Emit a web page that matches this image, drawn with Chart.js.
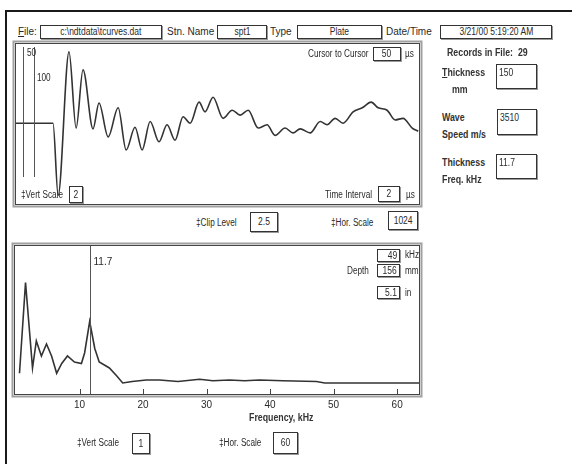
<!DOCTYPE html>
<html>
<head>
<meta charset="utf-8">
<script src="https://cdn.jsdelivr.net/npm/chart.js@4.4.1/dist/chart.umd.min.js"></script>
<style>
  body { margin: 0; width: 572px; height: 464px; background: #fff; position: relative; overflow: hidden;
         font-family: "Liberation Sans", Arial, sans-serif; font-size: 10px; color: #2a2a2a; }
  .frame { position: absolute; left: 5px; top: 10px; right: -4px; bottom: -4px;
           border-top: 2px solid #1a1a1a; border-left: 2px solid #1a1a1a; }
  .t { position: absolute; white-space: nowrap; line-height: 12px; transform-origin: 0 0; }
  .c { transform: scaleX(0.82); }
  .b { font-weight: bold; transform: scaleX(0.88); color: #333; }
  .box { position: absolute; background: #fff; border: 1px solid #333; box-shadow: 1px 1px 0 #999;
         text-align: center; line-height: 12px; white-space: nowrap; box-sizing: border-box; overflow: hidden; }
  .box span { display: inline-block; transform: scaleX(0.85); }
  .box.tl { text-align: left; padding: 2px 0 0 2px; }
  .box.tl span { transform-origin: 0 0; }
  .box.r { text-align: right; padding-right: 2px; }
  .box.r span { transform-origin: 100% 0; }
  canvas { position: absolute; }
</style>
</head>
<body>
<div class="frame"></div>

<!-- header row -->
<div class="t" style="left:18px;top:26px"><u>F</u>ile:</div>
<div class="box" style="left:40px;top:25px;width:122px;height:14px"><span>c:\ndtdata\tcurves.dat</span></div>
<div class="t" style="left:167px;top:26px">Stn. Name</div>
<div class="box" style="left:217px;top:25px;width:50px;height:14px"><span>spt1</span></div>
<div class="t" style="left:270px;top:26px">Type</div>
<div class="box" style="left:297px;top:25px;width:85px;height:14px"><span>Plate</span></div>
<div class="t" style="left:386px;top:26px">Date/Time</div>
<div class="box" style="left:440px;top:25px;width:112px;height:14px"><span>3/21/00 5:19:20 AM</span></div>

<canvas id="waveChart" width="415" height="172" style="left:10px;top:38px"></canvas>
<canvas id="specChart" width="416" height="180" style="left:9px;top:240px"></canvas>

<!-- waveform panel labels -->
<div class="t c" style="left:308px;top:48px">Cursor to Cursor</div>
<div class="box" style="left:373px;top:47px;width:28px;height:14px"><span>50</span></div>
<div class="t c" style="left:405px;top:48px">µs</div>
<div class="t c" style="left:27px;top:47px">50</div>
<div class="t c" style="left:37px;top:72px">100</div>
<div class="t c" style="left:21px;top:189px">‡Vert Scale</div>
<div class="box" style="left:69px;top:186px;width:14px;height:17px;line-height:15px"><span>2</span></div>
<div class="t c" style="left:325px;top:189px">Time Interval</div>
<div class="box" style="left:378px;top:186px;width:22px;height:16px;line-height:14px"><span>2</span></div>
<div class="t c" style="left:406px;top:189px">µs</div>

<!-- right panel -->
<div class="t b" style="left:447px;top:47px">Records in File:&nbsp; 29</div>
<div class="t b" style="left:442px;top:67px"><u>T</u>hickness</div>
<div class="t b" style="left:452px;top:84px">mm</div>
<div class="box tl" style="left:496px;top:64px;width:41px;height:25px"><span>150</span></div>
<div class="t b" style="left:442px;top:112px">Wave</div>
<div class="t b" style="left:442px;top:129px">Speed m/s</div>
<div class="box tl" style="left:497px;top:109px;width:40px;height:26px"><span>3510</span></div>
<div class="t b" style="left:442px;top:157px">Thickness</div>
<div class="t b" style="left:442px;top:174px">Freq. kHz</div>
<div class="box tl" style="left:496px;top:154px;width:41px;height:25px"><span>11.7</span></div>

<!-- middle row -->
<div class="t c" style="left:196px;top:217px">‡Clip Level</div>
<div class="box" style="left:250px;top:212px;width:28px;height:20px;line-height:18px"><span>2.5</span></div>
<div class="t c" style="left:331px;top:217px">‡Hor. Scale</div>
<div class="box" style="left:388px;top:211px;width:30px;height:19px;line-height:17px"><span>1024</span></div>

<!-- spectrum panel labels -->
<div class="box r" style="left:377px;top:249px;width:23px;height:13px"><span>49</span></div>
<div class="t c" style="left:405px;top:249px">kHz</div>
<div class="t c" style="left:347px;top:265px">Depth</div>
<div class="box r" style="left:377px;top:264px;width:23px;height:13px"><span>156</span></div>
<div class="t c" style="left:405px;top:265px">mm</div>
<div class="box r" style="left:377px;top:286px;width:23px;height:13px"><span>5.1</span></div>
<div class="t c" style="left:405px;top:287px">in</div>
<div class="t b" style="left:249px;top:412px">Frequency, kHz</div>
<div class="t c" style="left:77px;top:437px">‡Vert Scale</div>
<div class="box" style="left:132px;top:433px;width:18px;height:21px;line-height:19px"><span>1</span></div>
<div class="t c" style="left:219px;top:437px">‡Hor. Scale</div>
<div class="box" style="left:273px;top:432px;width:25px;height:22px;line-height:20px"><span>60</span></div>

<script>
// time trace (µs, % of full scale)
const waveTime = [14, 185, 208, 257, 289, 320, 365, 392, 433, 478, 514, 554, 586, 622, 662, 698, 734, 770, 802, 842,
    869, 905, 950, 991, 1027, 1063, 1108, 1148, 1184, 1229, 1265, 1297, 1342, 1387, 1418, 1454, 1490, 1535, 1576, 1616,
    1648, 1688, 1724, 1760, 1801, 1828];
const waveAmp = [1, 1, -88, 89, -5, 67, -6, 26, -16, 20, -32, -4, -32, 3, -22, -1, -20, 9, 1, 27,
    15, 33, 7, 17, 11, 17, -5, -1, -14, -5, -11, -6, -11, 3, -1, 7, 1, 15, 20, 27,
    20, 17, 5, 7, -5, -9];
const timeCursors = [50, 100];

// amplitude spectrum (kHz, relative amplitude)
const freqKHz = [0.55, 1.5, 2.6, 3.2, 4.0, 4.8, 5.6, 6.4, 7.2, 8.1, 9.2, 10.3, 10.8, 11.6, 12.4, 13.1, 14.7, 15.8, 16.8, 18.3,
    20.5, 22.6, 25.5, 28.9, 31, 33.6, 36, 38.3, 42, 47.3, 48.6, 55, 63.5];
const specAmp = [14.5, 75, 18, 36, 26, 34, 26, 14.5, 21, 26, 22, 21, 28, 49, 31, 22, 18, 13, 8, 9,
    10, 10, 9, 10.5, 9.5, 10, 9.5, 10, 9.5, 9, 8, 8, 8];
const freqCursors = [11.7];
const freqTicks = [10, 20, 30, 40, 50, 60];

const lineColor = '#333';

// grey double frame round the plot area
const framePlugin = {
    id: 'frame',
    afterDraw(chart, args, opts) {
        const { ctx, chartArea: a } = chart;
        const l = a.left - (opts.extraLeft || 0);
        ctx.save();
        ctx.strokeStyle = '#a0a0a0';
        ctx.lineWidth = 2;
        ctx.strokeRect(l - 1.5, a.top - 1.5, a.right - l + 3, a.bottom - a.top + 3);
        ctx.strokeStyle = '#444';
        ctx.lineWidth = 1;
        ctx.strokeRect(l + 0.5, a.top + 0.5, a.right - l - 1, a.bottom - a.top - 1);
        ctx.restore();
    }
};

// vertical cursor lines
const cursorPlugin = {
    id: 'cursors',
    afterDatasetsDraw(chart, args, opts) {
        const { ctx, chartArea: a, scales } = chart;
        ctx.save();
        ctx.strokeStyle = '#555';
        ctx.lineWidth = 1;
        ctx.fillStyle = '#2a2a2a';
        ctx.font = '10px "Liberation Sans", sans-serif';
        opts.values.forEach(v => {
            const x = Math.round(scales.x.getPixelForValue(v)) + 0.5;
            ctx.beginPath();
            ctx.moveTo(x, a.top + (opts.top || 0));
            ctx.lineTo(x, a.bottom - (opts.bottom || 0));
            ctx.stroke();
            if (opts.label) ctx.fillText(v.toString(), x + 3, a.top + 20);
        });
        ctx.restore();
    }
};

// short ticks pointing up into the plot
const innerTicks = {
    id: 'innerTicks',
    afterDraw(chart) {
        const { ctx, chartArea: a, scales } = chart;
        ctx.save();
        ctx.strokeStyle = '#444';
        ctx.lineWidth = 1;
        freqTicks.forEach(v => {
            const x = Math.round(scales.x.getPixelForValue(v)) + 0.5;
            ctx.beginPath();
            ctx.moveTo(x, a.bottom);
            ctx.lineTo(x, a.bottom - 6);
            ctx.stroke();
        });
        ctx.restore();
    }
};

new Chart(document.getElementById('waveChart'), {
    type: 'line',
    data: {
        datasets: [{
            data: waveTime.map((t, i) => ({ x: t, y: waveAmp[i] })),
            borderColor: lineColor,
            borderWidth: 1.6,
            pointRadius: 0,
            cubicInterpolationMode: 'monotone',
            fill: false
        }]
    },
    options: {
        responsive: false,
        animation: false,
        devicePixelRatio: 1,
        layout: { padding: 5 },
        plugins: {
            legend: { display: false },
            tooltip: { enabled: false },
            frame: {},
            cursors: { values: timeCursors, top: 4, bottom: 28, label: false }
        },
        scales: {
            x: { type: 'linear', min: 14, max: 1836, display: false },
            y: { min: -100, max: 100, display: false }
        }
    },
    plugins: [framePlugin, cursorPlugin]
});

new Chart(document.getElementById('specChart'), {
    type: 'line',
    data: {
        datasets: [{
            data: freqKHz.map((f, i) => ({ x: f, y: specAmp[i] })),
            borderColor: lineColor,
            borderWidth: 1.6,
            pointRadius: 0,
            tension: 0,
            fill: false
        }]
    },
    options: {
        responsive: false,
        animation: false,
        devicePixelRatio: 1,
        layout: { padding: { left: 7, right: 5, top: 5, bottom: 5 } },
        plugins: {
            legend: { display: false },
            tooltip: { enabled: false },
            frame: { extraLeft: 2 },
            cursors: { values: freqCursors, top: 0, bottom: 0, label: true }
        },
        scales: {
            x: {
                type: 'linear',
                min: 0,
                max: 63.6,
                grid: { display: false, drawTicks: false },
                border: { display: false },
                afterFit: s => { s.height = 20; },
                ticks: {
                    stepSize: 10,
                    includeBounds: false,
                    color: '#2a2a2a',
                    padding: 4,
                    font: { family: '"Liberation Sans", sans-serif', size: 10 },
                    callback: v => (v === 0 ? '' : v)
                }
            },
            y: { min: 0, max: 100, display: false }
        }
    },
    plugins: [framePlugin, cursorPlugin, innerTicks]
});
</script>
</body>
</html>
